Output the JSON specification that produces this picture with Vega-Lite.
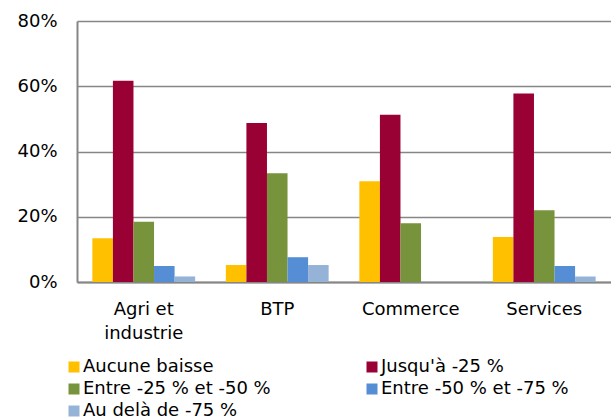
{
  "$schema": "https://vega.github.io/schema/vega-lite/v6.json",
  "width": 534,
  "height": 261,
  "autosize": "none",
  "padding": {"left": 77, "top": 21, "right": 0, "bottom": 136},
  "background": "white",
  "config": {
    "font": "DejaVu Sans",
    "view": {"stroke": null}
  },
  "data": {
    "values": [
      {"secteur": "Agri et industrie", "cat": "Aucune baisse", "ord": 1, "v": 0.134},
      {"secteur": "Agri et industrie", "cat": "Jusqu'à -25 %", "ord": 2, "v": 0.617},
      {"secteur": "Agri et industrie", "cat": "Entre -25 % et -50 %", "ord": 3, "v": 0.185},
      {"secteur": "Agri et industrie", "cat": "Entre -50 % et -75 %", "ord": 4, "v": 0.049},
      {"secteur": "Agri et industrie", "cat": "Au delà de -75 %", "ord": 5, "v": 0.017},
      {"secteur": "BTP", "cat": "Aucune baisse", "ord": 1, "v": 0.052},
      {"secteur": "BTP", "cat": "Jusqu'à -25 %", "ord": 2, "v": 0.487},
      {"secteur": "BTP", "cat": "Entre -25 % et -50 %", "ord": 3, "v": 0.333},
      {"secteur": "BTP", "cat": "Entre -50 % et -75 %", "ord": 4, "v": 0.076},
      {"secteur": "BTP", "cat": "Au delà de -75 %", "ord": 5, "v": 0.052},
      {"secteur": "Commerce", "cat": "Aucune baisse", "ord": 1, "v": 0.309},
      {"secteur": "Commerce", "cat": "Jusqu'à -25 %", "ord": 2, "v": 0.513},
      {"secteur": "Commerce", "cat": "Entre -25 % et -50 %", "ord": 3, "v": 0.180},
      {"secteur": "Commerce", "cat": "Entre -50 % et -75 %", "ord": 4, "v": 0},
      {"secteur": "Commerce", "cat": "Au delà de -75 %", "ord": 5, "v": 0},
      {"secteur": "Services", "cat": "Aucune baisse", "ord": 1, "v": 0.138},
      {"secteur": "Services", "cat": "Jusqu'à -25 %", "ord": 2, "v": 0.578},
      {"secteur": "Services", "cat": "Entre -25 % et -50 %", "ord": 3, "v": 0.220},
      {"secteur": "Services", "cat": "Entre -50 % et -75 %", "ord": 4, "v": 0.049},
      {"secteur": "Services", "cat": "Au delà de -75 %", "ord": 5, "v": 0.017}
    ]
  },
  "mark": {"type": "bar"},
  "encoding": {
    "x": {
      "field": "secteur",
      "type": "nominal",
      "sort": ["Agri et industrie", "BTP", "Commerce", "Services"],
      "scale": {"paddingInner": 0.23, "paddingOuter": 0.115},
      "axis": {
        "title": null,
        "labelAngle": 0,
        "labelFontSize": 18,
        "labelColor": "#000000",
        "labelPadding": 18,
        "labelLineHeight": 24,
        "labelExpr": "datum.label == 'Agri et industrie' ? ['Agri et', 'industrie'] : datum.label",
        "ticks": false,
        "domainColor": "#868686",
        "domainWidth": 2,
        "grid": false
      }
    },
    "xOffset": {
      "field": "cat",
      "type": "nominal",
      "sort": ["Aucune baisse", "Jusqu'à -25 %", "Entre -25 % et -50 %", "Entre -50 % et -75 %", "Au delà de -75 %"],
      "scale": {"paddingInner": 0, "paddingOuter": 0}
    },
    "y": {
      "field": "v",
      "type": "quantitative",
      "scale": {"domain": [0, 0.8], "nice": false},
      "axis": {
        "title": null,
        "format": ".0%",
        "values": [0, 0.2, 0.4, 0.6, 0.8],
        "labelFontSize": 18,
        "labelColor": "#000000",
        "labelPadding": 20,
        "ticks": false,
        "domainColor": "#868686",
        "domainWidth": 2,
        "gridColor": "#868686",
        "gridWidth": 1.5
      }
    },
    "color": {
      "field": "cat",
      "type": "nominal",
      "sort": ["Aucune baisse", "Jusqu'à -25 %", "Entre -25 % et -50 %", "Entre -50 % et -75 %", "Au delà de -75 %"],
      "scale": {
        "domain": ["Aucune baisse", "Jusqu'à -25 %", "Entre -25 % et -50 %", "Entre -50 % et -75 %", "Au delà de -75 %"],
        "range": ["#FFC000", "#990033", "#77933C", "#558ED5", "#95B3D7"]
      },
      "legend": {
        "title": null,
        "orient": "none",
        "legendX": -12,
        "legendY": 337,
        "direction": "horizontal",
        "columns": 2,
        "columnPadding": 92,
        "rowPadding": 4,
        "symbolType": "square",
        "symbolSize": 121,
        "symbolStrokeWidth": 0,
        "symbolOpacity": 1,
        "labelFontSize": 18,
        "labelColor": "#000000",
        "labelOffset": 0,
        "labelLimit": 400
      }
    }
  }
}
